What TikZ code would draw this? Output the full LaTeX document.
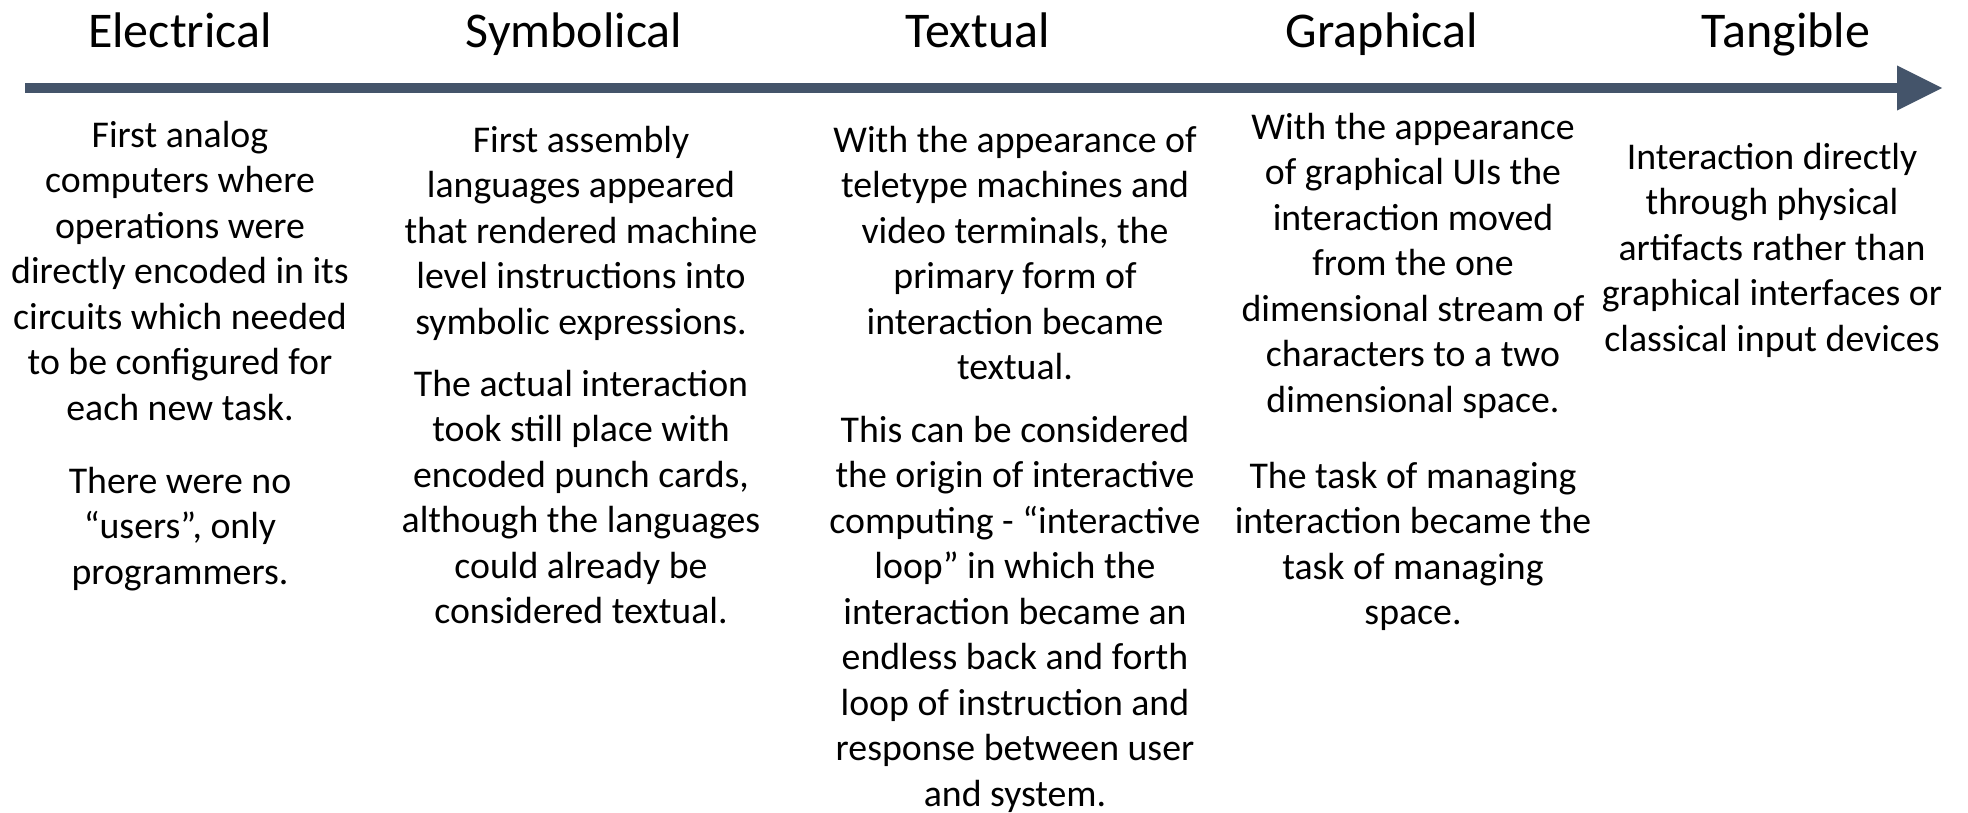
\documentclass[tikz,border=0pt]{standalone}
\usepackage{fontspec}
\setmainfont{Carlito}
\usetikzlibrary{arrows.meta}
\definecolor{axiscol}{HTML}{44546A}
\begin{document}
\begin{tikzpicture}[x=1pt,y=-1pt,
  head/.style={font=\fontsize{50}{60}\selectfont, anchor=base, inner sep=0pt},
  body/.style={font=\fontsize{37.8}{45.5}\selectfont, align=center, anchor=north, inner sep=0pt},
  axisline/.style={draw=axiscol, line width=10pt, -{Triangle[length=46pt,width=42pt]}}]
\useasboundingbox (0,0) rectangle (1968,812);
% axis
\coordinate (start) at (25,88);
\coordinate (tip) at (1943,88);
\draw[axisline] (start) -- (tip);
% headings
\node[head] (h1) at (180,47) {Electrical};
\node[head] (h2) at (574,47) {Symbolical};
\node[head] (h3) at (978,47) {Textual};
\node[head] (h4) at (1382,47) {Graphical};
\node[head] (h5) at (1786,47) {Tangible};
% bodies (north = first baseline - 31.85)
\node[body] (e1) at (180,115) {\strut First analog\\computers where\\operations were\\directly encoded in its\\circuits which needed\\to be configured for\\each new task.};
\node[body] (e2) at (180,461) {\strut There were no\\“users”, only\\programmers.};
\node[body] (s1) at (581,120) {\strut First assembly\\languages appeared\\that rendered machine\\level instructions into\\symbolic expressions.};
\node[body] (s2) at (581,364) {\strut The actual interaction\\took still place with\\encoded punch cards,\\although the languages\\could already be\\considered textual.};
\node[body] (t1) at (1015,120) {\strut With the appearance of\\teletype machines and\\video terminals, the\\primary form of\\interaction became\\textual.};
\node[body] (t2) at (1015,410) {\strut This can be considered\\the origin of interactive\\computing - “interactive\\loop” in which the\\interaction became an\\endless back and forth\\loop of instruction and\\response between user\\and system.};
\node[body] (g1) at (1413,107) {\strut With the appearance\\of graphical UIs the\\interaction moved\\from the one\\dimensional stream of\\characters to a two\\dimensional space.};
\node[body] (g2) at (1413,456) {\strut The task of managing\\interaction became the\\task of managing\\space.};
\node[body] (n1) at (1772,137) {\strut Interaction directly\\through physical\\artifacts rather than\\graphical interfaces or\\classical input devices};
\end{tikzpicture}
\end{document}
